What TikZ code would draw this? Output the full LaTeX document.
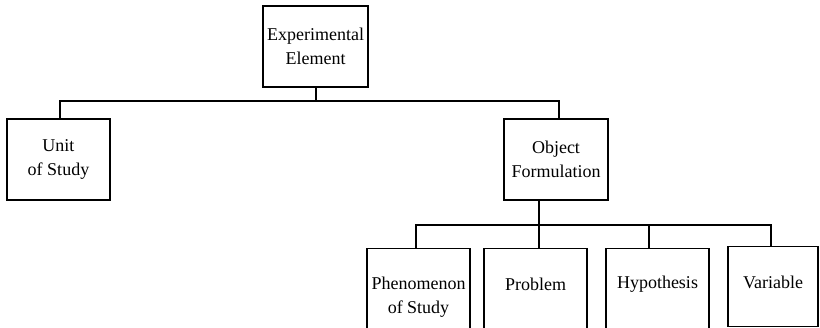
\documentclass[tikz,border=0pt]{standalone}
\usepackage{fontspec}
\setmainfont{Liberation Serif}
\begin{document}
\begin{tikzpicture}[x=1pt,y=-1pt,
  box/.style={draw, line width=1.4pt, inner sep=0pt},
  lbl/.style={align=center, inner sep=0pt, font=\fontsize{18}{24.5}\selectfont},
  wire/.style={line width=1.4pt}]
\useasboundingbox (0,0) rectangle (820,327);
\clip (0,0) rectangle (820,327);

% upper levels
\node[box, minimum width=105pt, minimum height=81pt] (top) at (315.5,46.5) {};
\node[lbl] (toptxt) at (top.center) {Experimental\\Element};

\node[box, minimum width=103pt, minimum height=81pt] (unit) at (58.5,159.5) {};
\node[lbl] (unittxt) at (unit.center) {Unit\\of Study};

\node[box, minimum width=104pt, minimum height=81pt] (obj) at (556,159.5) {};
\node[lbl] (objtxt) at (obj.center) {Object\\Formulation};

% bottom level (boxes run past the lower edge)
\node[box, minimum width=103pt, minimum height=120pt, anchor=north] (phen) at (418.5,248) {};
\node[lbl] (phentxt) at ([yshift=-49pt]phen.north) {Phenomenon\\of Study};

\node[box, minimum width=103pt, minimum height=120pt, anchor=north] (prob) at (535.5,248) {};
\node[lbl] (probtxt) at ([yshift=-36.5pt]prob.north) {Problem};

\node[box, minimum width=103pt, minimum height=120pt, anchor=north] (hyp) at (657.5,248) {};
\node[lbl] (hyptxt) at ([yshift=-36.5pt]hyp.north) {Hypothesis};

\node[box, minimum width=90pt, minimum height=80pt, anchor=north] (var) at (773,246) {};
\node[lbl] (vartxt) at ([yshift=-36.5pt]var.north) {Variable};

% bus junctions
\coordinate (b1) at (316,101);
\coordinate (b1l) at (60,101);
\coordinate (b1r) at (559,101);
\coordinate (b2) at (539,225);
\coordinate (b2a) at (416,225);
\coordinate (b2c) at (649,225);
\coordinate (b2d) at (771,225);

% first-level connectors
\draw[wire] (top.south -| b1) -- (b1);
\draw[wire] (b1l |- unit.north) -- (b1l) -- (b1r) -- (b1r |- obj.north);

% second-level connectors
\draw[wire] (obj.south -| b2) -- (b2 |- prob.north);
\draw[wire] (b2a |- phen.north) -- (b2a) -- (b2d) -- (b2d |- var.north);
\draw[wire] (b2c) -- (b2c |- hyp.north);
\end{tikzpicture}
\end{document}
